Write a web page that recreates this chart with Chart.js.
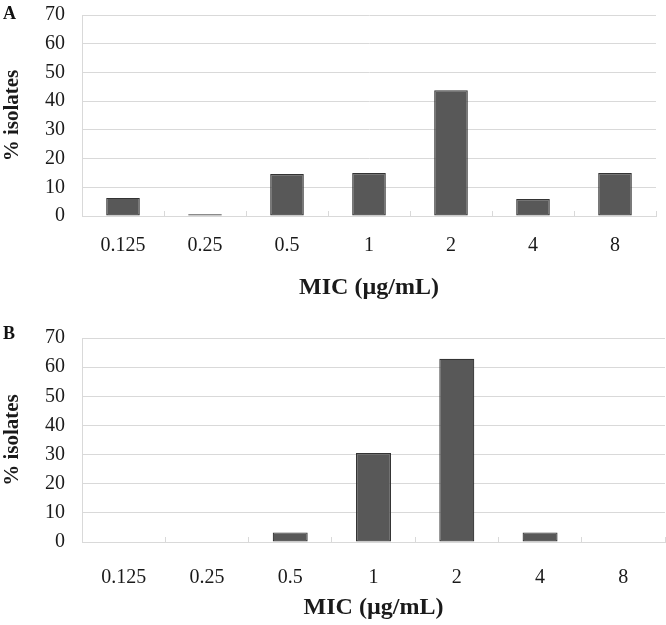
<!DOCTYPE html>
<html>
<head>
<meta charset="utf-8">
<script src="https://cdn.jsdelivr.net/npm/chart.js@4.4.1/dist/chart.umd.min.js"></script>
<style>
  html, body { margin: 0; padding: 0; background: #ffffff; }
  #wrap { position: relative; width: 666px; height: 625px; overflow: hidden; }
  canvas { position: absolute; left: 0; }
  .panel { position: absolute; left: 3px; font-family: "Liberation Serif", "Times New Roman", serif; font-weight: bold; font-size: 18px; color: #111; line-height: 1; }
</style>
</head>
<body>
<div id="wrap">
  <canvas id="chartA" width="666" height="320" style="top:0px"></canvas>
  <canvas id="chartB" width="666" height="305" style="top:320px"></canvas>
  <div class="panel" style="top:4px">A</div>
  <div class="panel" style="top:324px">B</div>
</div>
<script>
// ---- data ----
const categories = ['0.125', '0.25', '0.5', '1', '2', '4', '8'];
const percentA = [6.3, 0.6, 14.6, 15.0, 43.8, 5.9, 15.0];
const percentB = [0, 0, 3.3, 30.5, 62.9, 3.3, 0];
const yMin = 0;
const yMax = 70;
const yStep = 10;
const xTitle = 'MIC (\u00b5g/mL)';
const yTitle = '% isolates';

const SERIF = '"Liberation Serif", "Times New Roman", serif';
const GRID = '#d9d9d9';

function makeChart(id, values, o) {
  const canvasH = o.canvasH;
  return new Chart(document.getElementById(id), {
    type: 'bar',
    data: {
      labels: categories,
      datasets: [{
        data: values,
        backgroundColor: '#585858',
        borderColor: '#333333',
        borderWidth: 1.2,
        borderSkipped: false,
        categoryPercentage: 1,
        barPercentage: o.barPct
      }]
    },
    options: {
      responsive: false,
      animation: false,
      devicePixelRatio: 1,
      layout: { padding: { top: o.top, right: o.right, left: 0, bottom: 0 } },
      plugins: { legend: { display: false }, tooltip: { enabled: false } },
      scales: {
        x: {
          grid: {
            drawOnChartArea: false,
            drawTicks: true,
            tickLength: -5,
            color: GRID,
            lineWidth: 1,
            offset: true
          },
          border: { display: true, color: GRID, width: 1 },
          ticks: {
            color: '#1a1a1a',
            font: { family: SERIF, size: 20 },
            padding: o.tickPad,
            maxRotation: 0,
            autoSkip: false
          },
          title: {
            display: true,
            text: xTitle,
            color: '#1a1a1a',
            font: { family: SERIF, size: 24, weight: 'bold' },
            padding: { top: 0, bottom: o.titlePad }
          },
          afterFit: (axis) => {
            axis.height = canvasH - o.bottom;
            axis.paddingLeft = 0;
            axis.paddingRight = 0;
          }
        },
        y: {
          min: yMin,
          max: yMax,
          ticks: {
            stepSize: yStep,
            autoSkip: false,
            color: '#1a1a1a',
            font: { family: SERIF, size: 20 },
            padding: 17
          },
          grid: { color: GRID, lineWidth: 1, drawTicks: false },
          border: { display: true, color: GRID, width: 1 },
          title: {
            display: true,
            text: yTitle,
            color: '#1a1a1a',
            font: { family: SERIF, size: 21, weight: 'bold' },
            padding: { top: 0, bottom: 0 }
          },
          afterFit: (axis) => {
            axis.width = 82;
            axis.paddingTop = 0;
            axis.paddingBottom = 0;
          }
        }
      }
    }
  });
}

makeChart('chartA', percentA, { canvasH: 320, top: 15, bottom: 216, right: 10, barPct: 0.41, tickPad: 23, titlePad: 18 });
makeChart('chartB', percentB, { canvasH: 305, top: 18, bottom: 222, right: 1, barPct: 0.42, tickPad: 29, titlePad: 3 });
</script>
</body>
</html>
